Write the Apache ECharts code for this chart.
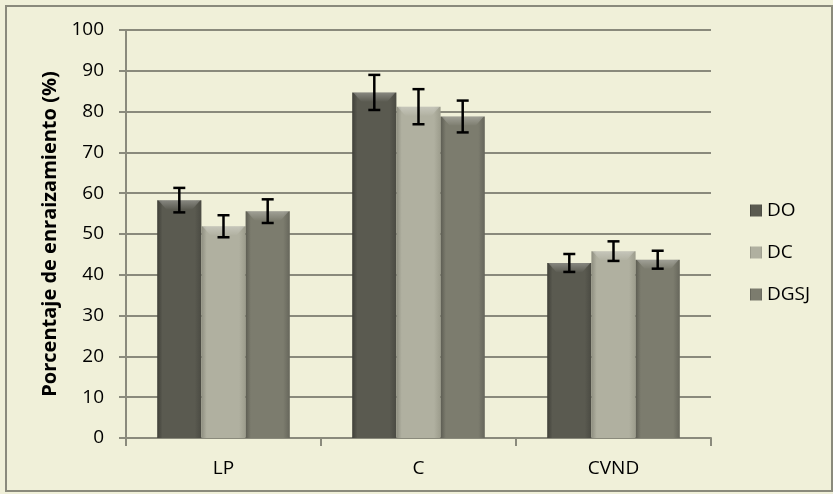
<!DOCTYPE html>
<html><head><meta charset="utf-8">
<script src="https://cdn.jsdelivr.net/npm/echarts@6/dist/echarts.min.js"></script>
<style>html,body{margin:0;padding:0;background:#F0F0D9;}#c{width:833px;height:494px;}</style>
</head><body><div id="c"></div>
<script>
var categories = ['LP', 'C', 'CVND'];
var seriesNames = ['DO', 'DC', 'DGSJ'];
var valuesDO = [58.3, 84.7, 42.9];
var valuesDC = [51.9, 81.2, 45.8];
var valuesDGSJ = [55.6, 78.8, 43.7];
var errDO = [3.0, 4.3, 2.2];
var errDC = [2.7, 4.3, 2.4];
var errDGSJ = [2.9, 3.9, 2.2];
var yTicks = [0, 10, 20, 30, 40, 50, 60, 70, 80, 90, 100];

var values = [valuesDO, valuesDC, valuesDGSJ];
var errs = [errDO, errDC, errDGSJ];
var baseColors = [
  ['#3f3f38', '#5a5a50', '#4a4a42'],
  ['#8e8e80', '#b0b0a0', '#9c9c8c'],
  ['#5c5c52', '#7c7c6e', '#66665b']
];
var FONT = 'Open Sans';
var catGap = 0.32;

function grad(c) {
  return new echarts.graphic.LinearGradient(0, 0, 1, 0, [
    {offset: 0, color: c[0]}, {offset: 0.12, color: c[1]},
    {offset: 0.85, color: c[1]}, {offset: 1, color: c[2]}
  ]);
}

var series = [];
seriesNames.forEach(function (n, i) {
  series.push({
    name: n, type: 'bar', data: values[i],
    barGap: '0%', barCategoryGap: (catGap * 100) + '%',
    itemStyle: {color: grad(baseColors[i])}
  });
});
seriesNames.forEach(function (n, i) {
  var d = categories.map(function (c, k) { return [k, values[i][k], errs[i][k]]; });
  series.push({
    type: 'custom', silent: true, z: 10,
    data: d,
    encode: {x: 0, y: 1},
    renderItem: function (params, api) {
      var k = api.value(0), v = api.value(1), e = api.value(2);
      var band = api.size([1, 0])[0];
      var bw = band * (1 - catGap) / 3;
      var center = api.coord([k, v])[0];
      var x = center + (i - 1) * bw;
      var yv = api.coord([k, v])[1];
      var yTop = api.coord([k, v + e])[1];
      var yBot = api.coord([k, v - e])[1];
      var cap = 6;
      var st = {stroke: '#000', lineWidth: 2.5};
      return {type: 'group', children: [
        {type: 'polygon', shape: {points: [[x - bw / 2 + 1, yv], [x + bw / 2 - 1, yv], [x + bw / 2 - 9, yv + 9], [x - bw / 2 + 9, yv + 9]]},
          style: {fill: new echarts.graphic.LinearGradient(0, 0, 0, 1, [
            {offset: 0, color: 'rgba(255,255,255,0.28)'}, {offset: 1, color: 'rgba(255,255,255,0.02)'}])}},
        {type: 'line', shape: {x1: x, y1: yTop, x2: x, y2: yBot}, style: st},
        {type: 'line', shape: {x1: x - cap, y1: yTop, x2: x + cap, y2: yTop}, style: st},
        {type: 'line', shape: {x1: x - cap, y1: yBot, x2: x + cap, y2: yBot}, style: st}
      ]};
    }
  });
});

var chart = echarts.init(document.getElementById('c'));
chart.setOption({
  backgroundColor: '#F0F0D9',
  animation: false,
  graphic: [{type: 'rect', shape: {x: 6, y: 6, width: 826, height: 485},
    style: {fill: 'none', stroke: '#8a8a7c', lineWidth: 2}, z: -1}],
  grid: {left: 126, right: 122, top: 30, bottom: 56},
  legend: {
    orient: 'vertical', left: 745, top: 196, itemWidth: 12, itemHeight: 12, itemGap: 23,
    icon: 'rect', data: seriesNames,
    textStyle: {fontFamily: FONT, fontSize: 19, color: '#000'}
  },
  xAxis: {
    type: 'category', data: categories,
    axisLine: {lineStyle: {color: '#8a8a7c', width: 2}},
    axisTick: {show: true, length: 8, lineStyle: {color: '#8a8a7c', width: 2}},
    axisLabel: {fontFamily: FONT, fontSize: 19, color: '#000', margin: 21}
  },
  yAxis: {
    type: 'value', min: yTicks[0], max: yTicks[yTicks.length - 1], interval: 10,
    name: 'Porcentaje de enraizamiento (%)', nameLocation: 'middle', nameGap: 63,
    nameTextStyle: {fontFamily: FONT, fontSize: 20, fontWeight: 'bold', color: '#000'},
    axisLine: {show: true, lineStyle: {color: '#8a8a7c', width: 2}},
    axisTick: {show: true, length: 7, lineStyle: {color: '#8a8a7c', width: 2}},
    splitLine: {lineStyle: {color: '#8a8a7c', width: 2}},
    axisLabel: {fontFamily: FONT, fontSize: 19, color: '#000', margin: 22}
  },
  series: series
});
</script></body></html>
